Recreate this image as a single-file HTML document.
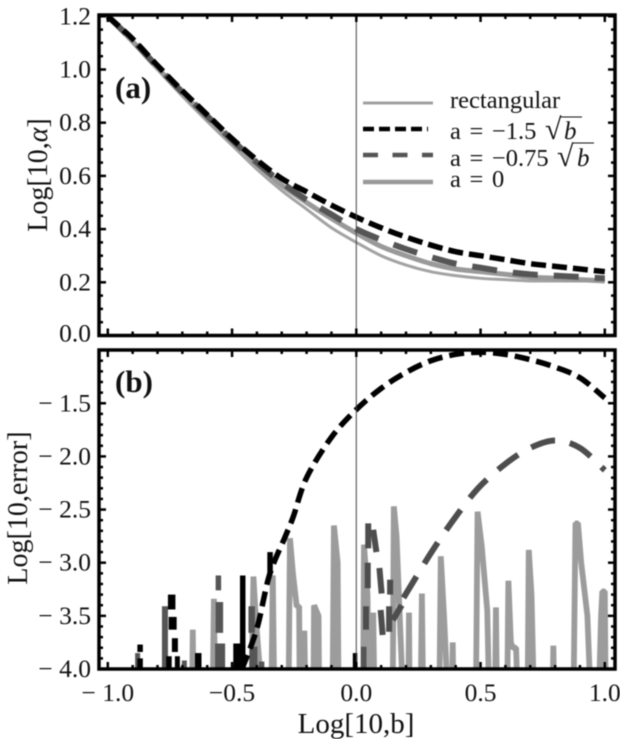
<!DOCTYPE html>
<html>
<head>
<meta charset="utf-8">
<style>
html,body{margin:0;padding:0;background:#fff;width:620px;height:739px;overflow:hidden}
svg{display:block;filter:blur(0.45px)}
text{font-family:"Liberation Serif",serif;fill:#111}
</style>
</head>
<body>
<svg id="chart" xmlns="http://www.w3.org/2000/svg" width="620" height="739" viewBox="0 0 620 739">
<defs>
<clipPath id="clipA"><rect x="99" y="15" width="516" height="320"/></clipPath>
<clipPath id="clipB"><rect x="99" y="350" width="516" height="319"/></clipPath>
</defs>
<g id="layer"></g>
<g>
<line x1="363" x2="433" y1="103" y2="103" stroke="#a0a0a0" stroke-width="3"/>
<line x1="363" x2="428" y1="129" y2="129" stroke="#000" stroke-width="4.5" stroke-dasharray="11 5"/>
<line x1="363" x2="433" y1="155" y2="155" stroke="#555" stroke-width="4.5" stroke-dasharray="15 14.5"/>
<line x1="363" x2="433" y1="182" y2="182" stroke="#999" stroke-width="4.5"/>
<text x="450" y="108" font-size="24.5">rectangular</text>
<text x="450" y="139" font-size="24.5" word-spacing="2.5">a = −1.5</text>
<text x="545" y="139" font-size="30">√</text>
<text x="564" y="139" font-size="25" font-style="italic">b</text>
<line x1="560" x2="582" y1="117" y2="117" stroke="#111" stroke-width="1"/>
<text x="450" y="166" font-size="24.5" word-spacing="2.5">a = −0.75</text>
<text x="557" y="166" font-size="30">√</text>
<text x="577" y="166" font-size="25" font-style="italic">b</text>
<line x1="573" x2="594" y1="143" y2="143" stroke="#111" stroke-width="1"/>
<text x="450" y="187" font-size="24.5" word-spacing="2.5">a = 0</text>
</g>
<text x="115" y="98" font-size="31" font-weight="bold">(a)</text>
<text x="115" y="392" font-size="31" font-weight="bold">(b)</text>
<text transform="translate(47,175) rotate(-90)" text-anchor="middle" font-size="28">Log[10,<tspan font-style="italic">α</tspan>]</text>
<text transform="translate(27,508) rotate(-90)" text-anchor="middle" font-size="28">Log[10,error]</text>
<text x="356" y="733" text-anchor="middle" font-size="29">Log[10,b]</text>
</svg>
<script>
const gridB = [-1,-0.9,-0.8,-0.7,-0.6,-0.5,-0.4,-0.3,-0.2,-0.1,0,0.1,0.2,0.3,0.4,0.5,0.6,0.7,0.8,0.9,1];
const alphaRect = [1.2,1.1,1.0,0.9,0.805,0.715,0.625,0.545,0.475,0.405,0.35,0.30,0.265,0.24,0.225,0.215,0.21,0.205,0.205,0.205,0.205];
const alphaZero = [1.2,1.105,1.005,0.91,0.82,0.73,0.645,0.565,0.5,0.44,0.385,0.335,0.3,0.27,0.25,0.24,0.23,0.22,0.215,0.21,0.205];
const alphaDark = [1.2,1.11,1.01,0.915,0.825,0.735,0.65,0.575,0.51,0.455,0.4,0.36,0.325,0.295,0.27,0.255,0.24,0.23,0.225,0.22,0.215];
const alphaBlack = [1.2,1.115,1.015,0.92,0.83,0.74,0.66,0.59,0.54,0.49,0.445,0.405,0.37,0.34,0.315,0.3,0.285,0.27,0.26,0.25,0.24];

const errGrayV = [-0.66,-0.658,-0.656,-0.577,-0.573,-0.569,-0.421,-0.414,-0.405,-0.385,-0.341,-0.336,-0.331,-0.272,-0.267,-0.255,-0.24,-0.23,-0.228,-0.212,-0.209,-0.206,-0.172,-0.17,-0.152,-0.15,-0.095,-0.09,-0.075,-0.072,0.028,0.031,0.045,0.05,0.066,0.068,0.072,0.147,0.151,0.162,0.173,0.185,0.21,0.212,0.214,0.26,0.264,0.268,0.335,0.34,0.353,0.365,0.386,0.388,0.39,0.482,0.488,0.505,0.527,0.533,0.559,0.562,0.565,0.608,0.612,0.622,0.63,0.643,0.647,0.69,0.694,0.705,0.713,0.791,0.793,0.795,0.875,0.882,0.892,0.905,0.93,0.94,0.978,0.985,0.99,1.0,1.003];
const errGrayE = [-4.1,-3.63,-4.1,-4.1,-3.34,-4.1,-4.1,-3.13,-3.5,-4.1,-4.1,-3.12,-4.1,-4.1,-2.77,-3.1,-3.41,-3.41,-4.1,-4.1,-3.64,-4.1,-4.1,-3.4,-3.5,-4.1,-4.1,-2.65,-3.0,-4.1,-4.1,-2.83,-3.3,-4.1,-4.1,-3.47,-4.1,-4.1,-2.47,-2.75,-3.4,-4.1,-4.1,-3.47,-4.1,-4.1,-3.29,-4.1,-4.1,-2.94,-3.5,-4.1,-4.1,-3.75,-4.1,-4.1,-2.52,-2.85,-3.45,-4.1,-4.1,-3.42,-4.1,-4.1,-3.17,-3.75,-3.8,-3.8,-4.1,-4.1,-2.88,-3.3,-4.1,-4.1,-3.78,-4.1,-4.1,-2.63,-2.63,-3.0,-3.5,-4.1,-4.1,-3.5,-3.27,-3.27,-4.1];

const errDarkV = [0.19,0.3,0.39,0.49,0.6,0.7,0.8,0.9,1.0];
const errDarkE = [-3.33,-2.91,-2.6,-2.3,-2.07,-1.92,-1.85,-1.92,-2.13];

const errBlackV = [-0.46,-0.4,-0.35,-0.287,-0.254,-0.2,-0.1,0,0.1,0.2,0.3,0.4,0.5,0.6,0.7,0.8,0.9,1.0];
const errBlackE = [-4,-3.62,-3.12,-2.76,-2.57,-2.2,-1.82,-1.56,-1.36,-1.21,-1.1,-1.04,-1.02,-1.04,-1.09,-1.16,-1.26,-1.45];

const darkSpikeV = [-0.88,-0.77,-0.692,-0.555,-0.551,-0.548,-0.421,-0.414,-0.381,0.03];
const darkSpikeLow = [-3.99,-3.99,-3.99,-3.26,-3.66,-3.99,-3.66,-3.99,-3.99,-3.99];
const darkSpikeHigh = [-3.85,-3.41,-3.92,-3.12,-3.37,-3.76,-3.41,-3.79,-3.93,-3.79];
const darkSpikeWidth = [5,6,5,5.5,7.5,10,6.5,8,5.5,5.5];

const darkFragV1 = [0.048,0.068,0.046,0.093,0.136,0.039,0.098,0.132,0.147];
const darkFragV2 = [0.048,0.081,0.046,0.102,0.136,0.039,0.106,0.132,0.183];
const darkFragE1 = [-2.63,-2.69,-3.0,-3.05,-3.16,-3.41,-3.445,-3.41,-3.54];
const darkFragE2 = [-2.865,-2.9,-3.24,-3.29,-3.3,-3.63,-3.68,-3.65,-3.4];

const blackSpikeV = [-0.87,-0.87,-0.743,-0.739,-0.73,-0.754,-0.72,-0.636,-0.481,-0.457,-0.347,-0.005];
const blackSpikeLow = [-3.99,-3.84,-3.44,-3.63,-3.84,-3.99,-3.99,-3.99,-3.99,-3.99,-3.1,-3.99];
const blackSpikeHigh = [-3.9,-3.77,-3.3,-3.51,-3.71,-3.88,-3.88,-3.85,-3.76,-3.12,-2.9,-3.85];
const blackSpikeWidth = [5.5,5.5,7.5,8,6,5.5,5,6.5,7,5.5,5.5,4.5];

const tickLabelsX = ["− 1.0","−0.5","0.0","0.5","1.0"];
const tickValuesX = [-1,-0.5,0,0.5,1];
const tickLabelsA = ["0.0","0.2","0.4","0.6","0.8","1.0","1.2"];
const tickValuesA = [0,0.2,0.4,0.6,0.8,1,1.2];
const tickLabelsB = ["− 1.5","− 2.0","− 2.5","− 3.0","− 3.5","− 4.0"];
const tickValuesB = [-1.5,-2,-2.5,-3,-3.5,-4];

const NS = "http://www.w3.org/2000/svg";
const layer = document.getElementById("layer");
const xS = v => 356.3 + 248.5 * v;
const yA = v => 335.5 - 266 * v;
const yB = v => 669 - (v + 4) * 106.3;

function make(tag, attrs, parent) {
  const el = document.createElementNS(NS, tag);
  for (const k in attrs) el.setAttribute(k, attrs[k]);
  (parent || layer).appendChild(el);
  return el;
}
function pathOf(xs, ys, yf) {
  return xs.map((v, i) => (i ? "L" : "M") + xS(v).toFixed(2) + " " + yf(ys[i]).toFixed(2)).join(" ");
}
// Catmull-Rom smoothing for the continuous curves; passes through each data point.
function smoothOf(xs, ys, yf) {
  const p = xs.map((v, i) => [xS(v), yf(ys[i])]);
  let d = "M" + p[0][0].toFixed(2) + " " + p[0][1].toFixed(2);
  for (let i = 0; i < p.length - 1; i++) {
    const a = p[Math.max(i - 1, 0)], b = p[i], c = p[i + 1], e = p[Math.min(i + 2, p.length - 1)];
    d += " C" + (b[0] + (c[0] - a[0]) / 6).toFixed(2) + " " + (b[1] + (c[1] - a[1]) / 6).toFixed(2) + " " +
      (c[0] - (e[0] - b[0]) / 6).toFixed(2) + " " + (c[1] - (e[1] - b[1]) / 6).toFixed(2) + " " +
      c[0].toFixed(2) + " " + c[1].toFixed(2);
  }
  return d;
}

// Panel (a) curves
const curveRect = make("path", {d: smoothOf(gridB, alphaRect, yA), fill: "none", stroke: "#a3a3a3", "stroke-width": 3, "clip-path": "url(#clipA)"});


const curveZero = make("path", {d: smoothOf(gridB, alphaZero, yA), fill: "none", stroke: "#999", "stroke-width": 5, "clip-path": "url(#clipA)"});


const curveDark = make("path", {d: smoothOf(gridB, alphaDark, yA), fill: "none", stroke: "#555", "stroke-width": 6, "stroke-dasharray": "25 16", "clip-path": "url(#clipA)"});


const curveBlack = make("path", {d: smoothOf(gridB, alphaBlack, yA), fill: "none", stroke: "#000", "stroke-width": 5.5, "stroke-dasharray": "15 6", "clip-path": "url(#clipA)"});



// Panel (b) series
const errGray = make("path", {d: pathOf(errGrayV, errGrayE, yB), fill: "none", stroke: "#9c9c9c", "stroke-width": 5.8, "stroke-linejoin": "bevel", "clip-path": "url(#clipB)"});


darkSpikeV.forEach((v, i) => {
  const s = make("line", {x1: xS(v), x2: xS(v), y1: yB(darkSpikeLow[i]), y2: yB(darkSpikeHigh[i]), stroke: "#555", "stroke-width": darkSpikeWidth[i], "clip-path": "url(#clipB)"});
  
  
});
darkFragV1.forEach((v, i) => {
  const s = make("line", {x1: xS(v), x2: xS(darkFragV2[i]), y1: yB(darkFragE1[i]), y2: yB(darkFragE2[i]), stroke: "#4d4d4d", "stroke-width": 6, "clip-path": "url(#clipB)"});
  
  
});
const errDark = make("path", {d: smoothOf(errDarkV, errDarkE, yB), fill: "none", stroke: "#4d4d4d", "stroke-width": 6, "stroke-dasharray": "25 15", "clip-path": "url(#clipB)"});


blackSpikeV.forEach((v, i) => {
  const s = make("line", {x1: xS(v), x2: xS(v), y1: yB(blackSpikeLow[i]), y2: yB(blackSpikeHigh[i]), stroke: "#000", "stroke-width": blackSpikeWidth[i], "clip-path": "url(#clipB)"});
  
  
});
const errBlack = make("path", {d: smoothOf(errBlackV, errBlackE, yB), fill: "none", stroke: "#000", "stroke-width": 5.5, "stroke-dasharray": "15 7", "clip-path": "url(#clipB)"});



// Zero reference lines
[[15, 335], [350, 669]].forEach(r => {
  const z = make("line", {x1: xS(0), x2: xS(0), y1: r[0], y2: r[1], stroke: "#444", "stroke-width": 1});
  
  
});

// Frames and ticks
function panel(top, bottom, yFn, yMajor, yMinorStep, yFrom, yTo) {
  const left = 99, right = 615;
  const frame = make("rect", {x: left, y: top, width: right - left, height: bottom - top, fill: "none", stroke: "#000", "stroke-width": 3.5});
  
  
  for (let i = -10; i <= 10; i++) {
    const v = i / 10, len = i % 5 === 0 ? 7 : 4, x = xS(v);
    const t1 = make("line", {x1: x, x2: x, y1: bottom, y2: bottom - len, stroke: "#000", "stroke-width": 2.5});
    
    
    const t2 = make("line", {x1: x, x2: x, y1: top, y2: top + len, stroke: "#000", "stroke-width": 2.5});
    
    
  }
  const n = Math.round((yTo - yFrom) / yMinorStep);
  for (let i = 0; i <= n; i++) {
    const v = yFrom + i * yMinorStep, y = yFn(v);
    const major = yMajor.some(m => Math.abs(m - v) < 1e-6), len = major ? 7 : 4;
    const t1 = make("line", {x1: left, x2: left + len, y1: y, y2: y, stroke: "#000", "stroke-width": 2.5});
    
    
    const t2 = make("line", {x1: right, x2: right - len, y1: y, y2: y, stroke: "#000", "stroke-width": 2.5});
    
    
  }
}
panel(15, 335.5, yA, tickValuesA, 0.05, 0, 1.2);
panel(350, 669, yB, tickValuesB, 0.1, -4, -1);

// Tick labels
function label(str, x, y, anchor) {
  const t = make("text", {x: x, y: y, "text-anchor": anchor, "font-size": 25.5});
  t.textContent = str;
  return t;
}
tickValuesA.forEach((v, i) => {
  const t = label(tickLabelsA[i], 91, yA(v) + (v === 0 ? 6 : 8), "end");
  
  
});
tickValuesB.forEach((v, i) => {
  const t = label(tickLabelsB[i], 91, yB(v) + 8, "end");
  
  
});
tickValuesX.forEach((v, i) => {
  const t = label(tickLabelsX[i], xS(v), 701, "middle");
  
  
});
</script>
</body>
</html>
